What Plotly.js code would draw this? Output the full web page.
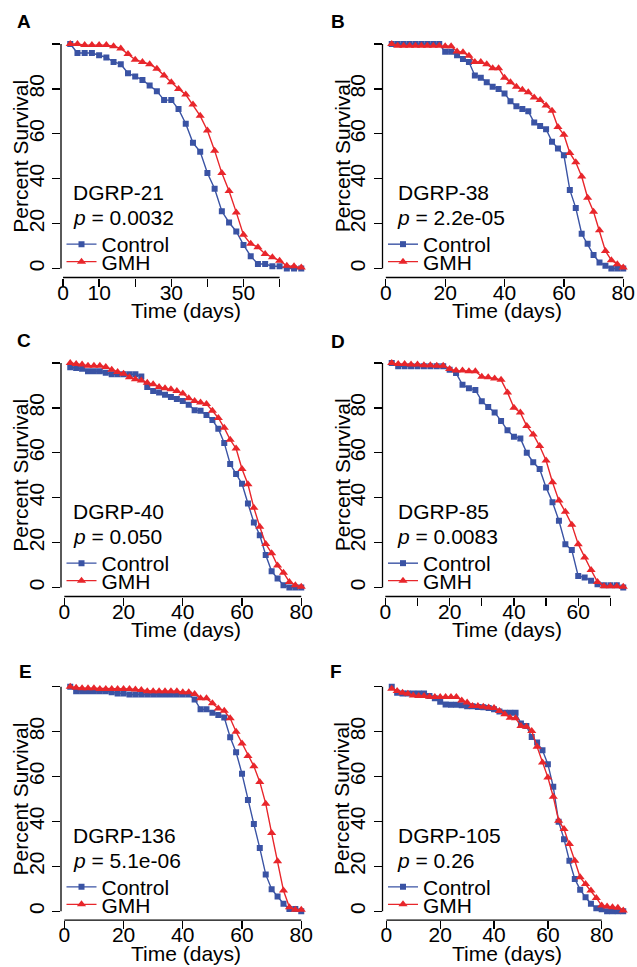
<!DOCTYPE html>
<html>
<head>
<meta charset="utf-8">
<script src="https://cdn.plot.ly/plotly-3.0.1.min.js"></script>
<style>html,body{margin:0;padding:0;background:#fff;}</style>
</head>
<body>
<div id="chart" style="width:637px;height:967px;"></div>
<script>
// ---------------- data ----------------
const panelLetters = ['A', 'B', 'C', 'D', 'E', 'F'];
const strainNames = ['DGRP-21', 'DGRP-38', 'DGRP-40', 'DGRP-85', 'DGRP-136', 'DGRP-105'];
const pValues = ['0.0032', '2.2e-05', '0.050', '0.0083', '5.1e-06', '0.26'];
const seriesNames = ['Control', 'GMH'];

const daysA = [2,4,6,8,10,12,14,16,18,20,22,24,26,28,30,32,34,36,38,40,42,44,46,48,50,52,54,56,58,60,62,64,66];
const controlA = [100,96,96,96,95,94,92,91,87,85.5,84,81.5,79,75,75,71,64.5,56,52,42.5,35.5,25.5,20.5,16.5,10.5,5.5,2,2,1,1,0,0,0];
const gmhA = [100,100,99.5,99.5,99.5,99.5,99,98,95.5,93,92,91,89,86,83,80,77.5,73,68,61.5,52.5,42.5,34.5,25,15,11,9.5,6.5,5,3.5,1.2,1,0.5];

const daysB = [2,4,6,8,10,12,14,16,18,20,22,24,26,28,30,32,34,36,38,40,42,44,46,48,50,52,54,56,58,60,62,64,66,68,70,72,74,76,78,80];
const controlB = [100,100,100,100,100,100,100,100,100,96.5,96.5,95,93.3,92,86,85,83,81,80,78,74.5,72.3,71,70,65,63.5,62,56.5,53.5,50.5,35,27,15.5,11,6,2.7,1.2,0,0,0];
const gmhB = [100,99.2,99.2,99.2,99.2,99.2,99.2,99.2,99.2,99,99,96.6,96.3,94.8,92,92,91,89.2,89.2,85,83,81,79.6,78.5,76.2,75,72.6,70.3,63,59.6,51.5,47.3,41,31.5,25.3,17,7.8,3.7,1.9,0.4];

const daysC = [2,4,6,8,10,12,14,16,18,20,22,24,26,28,30,32,34,36,38,40,42,44,46,48,50,52,54,56,58,60,62,64,66,68,70,72,74,76,78,80];
const controlC = [98.1,97.8,97.4,96.3,96.3,96.3,95.6,95,95,95,95,95,94,89.3,87.5,86.8,85.8,84.9,84,83.1,81.4,79,78.7,76.8,74.6,70.7,64.4,55,50.6,46.2,37.4,29,23.3,14.5,7.2,4,1,0,0,0];
const gmhC = [100,99.6,99.3,98.8,98.8,98.8,98.2,97,96,95.2,93.7,92.7,92.2,91.2,90.5,89.3,88.7,88.3,87.5,86.4,84.3,83.1,82.4,81.7,78.7,75.5,71.1,65.8,61.9,52.8,46,35.5,27.1,19.4,15.3,9.8,6.6,2.5,1,0.3];

const daysD = [2,4,6,8,10,12,14,16,18,20,22,24,26,28,30,32,34,36,38,40,42,44,46,48,50,52,54,56,58,60,62,64,66,68,70,72,74];
const controlD = [100,98.5,98.5,98.5,98.5,98.5,98.5,98.5,98.5,97,95.5,90.3,88.8,88,83,80.4,78,74.2,70,67.2,66.4,60,55.8,52.8,44.6,38,29.7,19.3,16.7,5.1,4.5,3,1.5,1,1,1,0];
const gmhD = [100,99.5,99.5,99.3,99.3,99,99,98.8,98.8,97.3,96.6,96.6,96.3,96.3,93.9,93.6,93.1,92.5,86.9,80.1,77.9,71.9,68.2,63,56.6,46.9,38.7,33.7,28,19.3,13.4,7.8,2.5,0.6,0.6,0.6,0.3];

const daysE = [2,4,6,8,10,12,14,16,18,20,22,24,26,28,30,32,34,36,38,40,42,44,46,48,50,52,54,56,58,60,62,64,66,68,70,72,74,76,78,80];
const controlE = [100,98,98,98,98,98,98,97.5,97,97,96.5,96.5,96.5,96.5,96.5,96.5,96.5,96.5,96.5,96.5,96.5,94.3,89.9,89.9,88.4,87.4,86.3,77.5,70.8,61.2,49.5,38.8,28.1,16.4,9.8,6.5,3.3,1,1,0];
const gmhE = [100,99.5,99.3,99.3,99.3,99,99,99,99,99,99,98.8,98.5,98,98,98,98,98,98,97.5,97.5,96.7,94.8,94.8,92.6,90.3,89.3,85.9,79.9,74.7,69.1,64.6,57.6,47.9,34.8,22.3,9.2,1.8,0.6,0.6];

const daysF = [2,4,6,8,10,12,14,16,18,20,22,24,26,28,30,32,34,36,38,40,42,44,46,48,50,52,54,56,58,60,62,64,66,68,70,72,74,76,78,80,82,84,86,88];
const controlF = [100,97.3,97,97,97,97,97,95.9,94.8,93.3,92.1,92,92,91.7,91.3,91.3,91,90.8,90.5,89.9,88.9,88.4,88.4,88.4,83.6,82.5,77.6,75.1,71.7,65.5,55.4,39.9,32.1,22.5,14.4,9.6,6.2,3.3,1.3,0.9,0,0,0,0];
const gmhF = [99.1,98.1,97.3,96.9,96.1,95.9,95.9,95.5,95.4,95.4,95.4,95.4,95.4,93.9,92.9,91.4,91.4,91.1,90.7,90.5,89.2,87.7,86.2,85.9,82.5,82.1,80.3,73.2,66.2,59.6,51,40.3,36.6,29.9,22.5,15.1,12.1,9.2,5.9,2.5,2.1,1.8,1.5,0.3];

// tick values / labels
const xTickValsA = [0,10,20,30,40,50,60];
const xTickTextA = ['0','10','','30','','50',''];
const xTickVals80 = [0,20,40,60,80];
const xTickText80 = ['0','20','40','60','80'];
const xTickValsD = [0,10,20,30,40,50,60,70];
const xTickTextD = ['0','','20','','40','','60',''];
const yTickVals = [0,20,40,60,80,100];
const yTickText = ['0','20','40','60','80',''];

// ---------------- styling / layout ----------------
const W = 637, H = 967;
const FONT = 'Liberation Sans, Arial, Helvetica, sans-serif';
const BLUE = '#3A53A4';
const RED = '#E8262B';
const colsPx = [[61, 310.5], [382.5, 632.5]];
const rowsPx = [[35, 277.5], [354, 596.5], [677.7, 920.2]];
const letterPos = [[24, 21.7], [338, 21.7], [24, 340], [338, 341], [25, 671.7], [336, 671]];

const panels = [
  {days: daysA, ctrl: controlA, gmh: gmhA, tv: xTickValsA, tt: xTickTextA},
  {days: daysB, ctrl: controlB, gmh: gmhB, tv: xTickVals80, tt: xTickText80},
  {days: daysC, ctrl: controlC, gmh: gmhC, tv: xTickVals80, tt: xTickText80},
  {days: daysD, ctrl: controlD, gmh: gmhD, tv: xTickValsD, tt: xTickTextD},
  {days: daysE, ctrl: controlE, gmh: gmhE, tv: xTickVals80, tt: xTickText80},
  {days: daysF, ctrl: controlF, gmh: gmhF, tv: xTickVals80, tt: xTickText80}
];

const px = v => v / W;
const py = v => 1 - v / H;

const traces = [];
const layout = {
  width: W, height: H,
  margin: {l: 0, r: 0, t: 0, b: 0, pad: 0},
  paper_bgcolor: '#fff', plot_bgcolor: '#fff',
  font: {family: FONT, size: 21, color: '#000'},
  showlegend: true,
  shapes: [], annotations: []
};

panels.forEach((p, i) => {
  const c = i % 2, r = Math.floor(i / 2);
  const n = i === 0 ? '' : String(i + 1);
  const xa = 'x' + n, ya = 'y' + n;
  const lo = Math.min(...p.days), hi = Math.max(...p.days);
  const padX = 0.04 * (hi - lo);
  const [L, R] = colsPx[c];
  const [T, B] = rowsPx[r];
  const y0px = B - (4 / 108) * (B - T);

  layout['xaxis' + n] = {
    domain: [px(L), px(R)], range: [lo - padX, hi + padX], anchor: ya,
    tickmode: 'array', tickvals: p.tv, ticktext: p.tt,
    ticks: 'outside', ticklen: 8, tickwidth: 1.3, tickcolor: '#000',
    showline: false, showgrid: false, zeroline: false,
    tickfont: {family: FONT, size: 21, color: '#000'}, tickangle: 0,
    ticklabelstandoff: -12
  };
  layout['yaxis' + n] = {
    domain: [py(B), py(T)], range: [-4, 104], anchor: xa,
    tickmode: 'array', tickvals: yTickVals, ticktext: yTickText,
    ticks: 'outside', ticklen: 8, tickwidth: 1.3, tickcolor: '#000',
    showline: false, showgrid: false, zeroline: false,
    tickfont: {family: FONT, size: 21, color: '#000'}, tickangle: -90
  };
  // R-style axis lines spanning first..last tick
  layout.shapes.push({type: 'line', xref: xa, yref: ya + ' domain',
    x0: p.tv[0], x1: p.tv[p.tv.length - 1], y0: 0, y1: 0,
    line: {color: '#000', width: 1.3}});
  layout.shapes.push({type: 'line', xref: xa + ' domain', yref: ya,
    x0: 0, x1: 0, y0: yTickVals[0], y1: yTickVals[yTickVals.length - 1],
    line: {color: '#000', width: 1.3}});

  const lgC = 'legend' + (2 * i + 1 === 1 ? '' : String(2 * i + 1));
  const lgG = 'legend' + String(2 * i + 2);
  traces.push({x: p.days, y: p.ctrl, xaxis: xa, yaxis: ya, type: 'scatter',
    mode: 'lines+markers', name: seriesNames[0], legend: lgC,
    line: {color: BLUE, width: 1.4}, marker: {symbol: 'square', size: 6, color: BLUE}});
  traces.push({x: p.days, y: p.gmh, xaxis: xa, yaxis: ya, type: 'scatter',
    mode: 'lines+markers', name: seriesNames[1], legend: lgG,
    line: {color: RED, width: 1.4}, marker: {symbol: 'triangle-up', size: 8, color: RED}});

  const legLeft = c === 0 ? 61.5 : 383;
  const legCommon = {xanchor: 'left', yanchor: 'middle', bgcolor: 'rgba(0,0,0,0)',
    borderwidth: 0, itemwidth: 30, font: {family: FONT, size: 21, color: '#000'}};
  layout[lgC] = Object.assign({x: px(legLeft), y: py(y0px - 24)}, legCommon);
  layout[lgG] = Object.assign({x: px(legLeft), y: py(y0px - 6.5)}, legCommon);

  const txtLeft = c === 0 ? 71 : 395.5;
  layout.annotations.push({xref: 'paper', yref: 'paper', x: px(txtLeft), y: py(y0px - 76),
    xanchor: 'left', yanchor: 'middle', showarrow: false, text: strainNames[i],
    font: {family: FONT, size: 21, color: '#000'}});
  layout.annotations.push({xref: 'paper', yref: 'paper', x: px(txtLeft - 0.5), y: py(y0px - 51),
    xanchor: 'left', yanchor: 'middle', showarrow: false, text: '<i>p</i> = ' + pValues[i],
    font: {family: FONT, size: 21, color: '#000'}});
  // axis titles
  layout.annotations.push({xref: 'paper', yref: 'paper', x: px((L + R) / 2), y: py(B + 33),
    xanchor: 'center', yanchor: 'middle', showarrow: false, text: 'Time (days)',
    font: {family: FONT, size: 21, color: '#000'}});
  layout.annotations.push({xref: 'paper', yref: 'paper', x: px(L - 40.5), y: py((T + B) / 2),
    xanchor: 'center', yanchor: 'middle', showarrow: false, text: 'Percent Survival', textangle: -90,
    font: {family: FONT, size: 21, color: '#000'}});
  // panel letter
  layout.annotations.push({xref: 'paper', yref: 'paper', x: px(letterPos[i][0]), y: py(letterPos[i][1]),
    xanchor: 'center', yanchor: 'middle', showarrow: false, text: '<b>' + panelLetters[i] + '</b>',
    font: {family: FONT, size: 19, color: '#000'}});
});

Plotly.newPlot('chart', traces, layout, {displayModeBar: false, staticPlot: true});
</script>
</body>
</html>
